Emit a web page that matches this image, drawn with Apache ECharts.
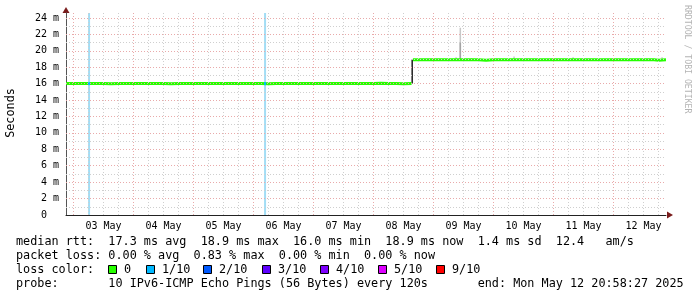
<!DOCTYPE html>
<html><head><meta charset="utf-8">
<script src="https://cdn.jsdelivr.net/npm/echarts@6/dist/echarts.min.js"></script>
<style>html,body{margin:0;padding:0;background:#fff}#c{width:697px;height:297px}</style>
</head><body><div id="c"></div>
<script>
// ---- data (hours relative to 03 May 2025 00:00) ----
const xStartHour = -3.0258;   // Fri May 02 20:58:27
const xEndHour = 236.9742;    // Mon May 12 20:58:27
const yMaxMs = 24.6;
const dayLabels = ['03 May','04 May','05 May','06 May','07 May','08 May','09 May','10 May','11 May','12 May'];
const dayNoonHours = [12,36,60,84,108,132,156,180,204,228];

const medianHours = [
  -3.03,0,3,6,9,12,15,18,21,24,27,30,33,36,39,42,45,48,51,54,57,60,63,66,69,72,75,78,81,84,87,90,93,96,99,102,105,108,111,114,117,120,123,126,129,132,135.2,
  135.45,
  135.75,138,141,144,147,150,153,156,159,162,165,168,171,174,177,180,183,186,189,192,195,198,201,204,207,210,213,216,219,222,225,228,231,232.2,234,236.97
];
const medianMs = [
  16.0,16.0,16.0,16.0,16.0,16.0,15.97,16.0,16.0,16.0,16.0,16.0,16.0,16.0,15.97,16.0,16.0,16.0,16.0,16.0,16.0,16.0,16.0,16.0,16.0,16.0,16.0,15.97,16.0,16.0,16.0,16.0,16.0,16.0,16.0,16.0,16.0,16.0,16.0,16.0,16.0,16.0,16.03,16.0,16.0,15.97,16.0,
  null,
  18.9,18.9,18.9,18.9,18.9,18.9,18.9,18.9,18.9,18.9,18.86,18.9,18.9,18.9,18.9,18.9,18.9,18.9,18.9,18.9,18.9,18.9,18.9,18.9,18.9,18.9,18.9,18.9,18.9,18.9,18.9,18.9,18.9,18.9,18.86,18.9,18.9
];

// smoke: [hour, low ms, high ms, shade index]
const smokeRanges = [
  [135.45, 16.0, 18.9, 0],
  [154.7, 18.9, 22.8, 2],
  [154.7, 18.9, 21.0, 1],
  [153.0, 18.9, 19.2, 2],
  [159.2, 18.9, 19.1, 2],
  [176.2, 18.9, 19.3, 2],
  [199.8, 18.9, 19.2, 2],
  [235.4, 18.9, 19.2, 2]
];
const smokeShades = ['#1e1e1e','#a4a4a4','#c8c8c8'];

// loss events
const lossHours = [6.2, 76.6];
const lossMedianMs = [16.0, 16.0];
const lossLevelIdx = [1, 1];

const lossLabels = ['0','1/10','2/10','3/10','4/10','5/10','9/10'];
const lossColors = ['#26ff00','#00b8ff','#0059ff','#5e00ff','#7e00ff','#dd00ff','#ff0000'];

const legendLines = [
  'median rtt:  17.3 ms avg  18.9 ms max  16.0 ms min  18.9 ms now  1.4 ms sd  12.4   am/s',
  'packet loss: 0.00 % avg  0.83 % max  0.00 % min  0.00 % now',
  'loss color:',
  'probe:       10 IPv6-ICMP Echo Pings (56 Bytes) every 120s       end: Mon May 12 20:58:27 2025'
];

// ---- layout ----
const W = 697, H = 297;
const gL = 66, gR = 666, gT = 13, gB = 215;
const mono = '"DejaVu Sans Mono", monospace';
const legendY = [241.5, 255.5, 269.5, 283.5];
const boxX = [108, 146, 203, 262, 320, 378, 436];

const chart = echarts.init(document.getElementById('c'), null, {renderer: 'canvas'});

const lineData = medianHours.map((h, i) => [h, medianMs[i]]);

// grid lines via markLine
const gridLines = [];
const minorC = '#cfcfcf', majorC = '#e9aaaa';
for (let h = 0; h <= 234; h += 6) {
  gridLines.push({xAxis: h, lineStyle: {color: h % 24 === 0 ? majorC : minorC, type: [1, 2], width: 1}});
}
for (let v = 1; v <= 24; v += 1) {
  gridLines.push({yAxis: v, lineStyle: {color: v % 2 === 0 ? majorC : minorC, type: [1, 2], width: 1}});
}

const graphics = [];
graphics.push({type: 'text', x: 11, y: 113, rotation: Math.PI / 2,
  style: {text: 'Seconds', font: '11.8px ' + mono, fill: '#000', align: 'center', verticalAlign: 'middle'}});
graphics.push({type: 'text', x: 687, y: 5, rotation: -Math.PI / 2,
  style: {text: 'RRDTOOL / TOBI OETIKER', font: '8.2px ' + mono, fill: '#b4b4b4', align: 'left', verticalAlign: 'middle'}});
legendLines.forEach((t, i) => {
  graphics.push({type: 'text', x: 16, y: legendY[i],
    style: {text: t, font: '11.8px ' + mono, fill: '#000', align: 'left', verticalAlign: 'middle'}});
});
lossLabels.forEach((lab, i) => {
  graphics.push({type: 'rect', shape: {x: boxX[i] + 0.5, y: 265.5, width: 8, height: 8},
    style: {fill: lossColors[i], stroke: '#000', lineWidth: 1}});
  graphics.push({type: 'text', x: boxX[i] + 16, y: legendY[2],
    style: {text: lab, font: '11.8px ' + mono, fill: '#000', align: 'left', verticalAlign: 'middle'}});
});
// axis arrows
graphics.push({type: 'polygon', shape: {points: [[gL - 3.5, gT], [gL, gT - 6], [gL + 3.5, gT]]}, style: {fill: '#7a1c1c'}});
graphics.push({type: 'polygon', shape: {points: [[gR + 1, gB - 3.5], [gR + 7, gB], [gR + 1, gB + 3.5]]}, style: {fill: '#7a1c1c'}});

const option = {
  animation: false,
  backgroundColor: '#fff',
  grid: {left: gL, right: W - gR, top: gT, bottom: H - gB, containLabel: false},
  xAxis: {
    type: 'value', min: xStartHour, max: xEndHour,
    axisLine: {show: true, onZero: false, lineStyle: {color: '#222', width: 1}},
    axisTick: {show: false},
    splitLine: {show: false},
    axisLabel: {
      show: true, customValues: dayNoonHours, margin: 6,
      fontFamily: mono, fontSize: 10, color: '#000',
      formatter: v => dayLabels[Math.round((v - 12) / 24)] || ''
    }
  },
  yAxis: {
    type: 'value', min: 0, max: yMaxMs, interval: 2,
    axisLine: {show: true, onZero: false, lineStyle: {color: '#555', width: 1}},
    axisTick: {show: false},
    splitLine: {show: false},
    axisLabel: {
      show: true, margin: 7, fontFamily: mono, fontSize: 10, color: '#000', showMaxLabel: false,
      formatter: v => {
        const r = Math.round(v);
        if (Math.abs(v - r) > 1e-6 || r % 2 !== 0) return '';
        return r === 0 ? '0  ' : r + ' m';
      }
    }
  },
  graphic: graphics,
  series: [
    {
      type: 'line', data: [], z: 1, silent: true,
      markLine: {silent: true, symbol: ['none', 'none'], label: {show: false}, animation: false, data: gridLines}
    },
    {
      type: 'custom', z: 2, silent: true,
      data: lossHours.map((h, i) => [h, lossMedianMs[i], lossLevelIdx[i]]),
      renderItem: (params, api) => {
        const h = api.value(0);
        const a = api.coord([h - 0.4, yMaxMs]);
        const b = api.coord([h + 0.4, 0]);
        return {type: 'rect', shape: {x: a[0], y: a[1], width: b[0] - a[0], height: b[1] - a[1]},
          style: {fill: '#a2ddf5'}};
      }
    },
    {
      type: 'custom', z: 3, silent: true,
      data: smokeRanges,
      renderItem: (params, api) => {
        const h = api.value(0);
        const a = api.coord([h - 0.3, api.value(2)]);
        const b = api.coord([h + 0.3, api.value(1)]);
        return {type: 'rect', shape: {x: a[0], y: a[1], width: b[0] - a[0], height: b[1] - a[1]},
          style: {fill: smokeShades[api.value(3)]}};
      }
    },
    {
      type: 'line', z: 4, data: lineData, showSymbol: false, connectNulls: false, silent: true,
      lineStyle: {color: lossColors[0], width: 3}
    },
    {
      type: 'custom', z: 5, silent: true,
      data: lossHours.map((h, i) => [h, lossMedianMs[i], lossLevelIdx[i]]),
      renderItem: (params, api) => {
        const h = api.value(0), m = api.value(1);
        const a = api.coord([h - 0.4, m + 0.18]);
        const b = api.coord([h + 0.4, m - 0.18]);
        return {type: 'rect', shape: {x: a[0], y: a[1], width: b[0] - a[0], height: b[1] - a[1]},
          style: {fill: lossColors[api.value(2)]}};
      }
    }
  ]
};
chart.setOption(option);
</script>
</body></html>
